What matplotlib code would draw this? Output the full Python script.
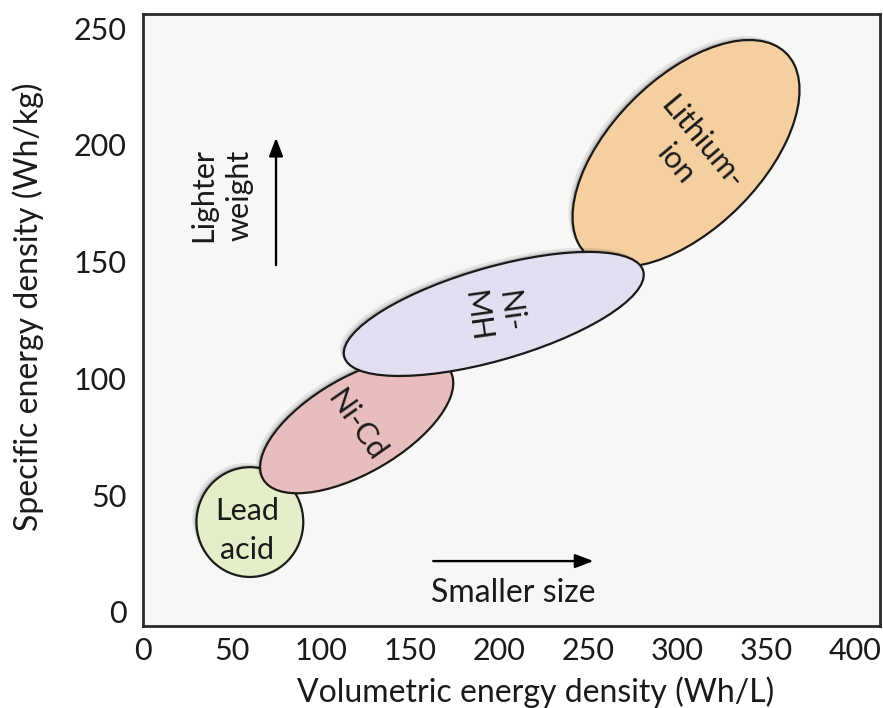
"""Battery chemistries: specific vs volumetric energy density"""
import matplotlib
matplotlib.use("Agg")
import matplotlib.pyplot as plt
from matplotlib.patches import Ellipse
import matplotlib.patheffects as pe

plt.rcParams["font.family"] = ["Lato", "DejaVu Sans"]

# region of each chemistry (centre, full extent along its own axes, tilt in data space)
batteries = ["Lead\nacid", "Ni-Cd", "Ni-\nMH", "Lithium-\nion"]
vol_center = [60, 120, 197, 305]          # Wh/L
spec_center = [38.5, 80, 127.6, 196.3]    # Wh/kg
vol_span = [60, 115.4, 172, 143.4]
spec_span = [47, 43.2, 40.4, 71.6]
tilt = [0, 21.5, 11.9, 31.9]

x_ticks = [0, 50, 100, 150, 200, 250, 300, 350, 400]
y_ticks = [0, 50, 100, 150, 200, 250]

fills = ["#e4efc9", "#e8bdbd", "#e3dff0", "#f5cf9f"]
label_rot = [0, -55, -82, -50]
label_gap = [1.45, 1.0, 1.25, 1.25]
label_shift = [(-2, -6), (0, 0), (0, 0), (2, 0)]   # points
shadow = [pe.SimplePatchShadow(offset=(-3, 3), shadow_rgbFace="k", alpha=0.08),
          pe.SimplePatchShadow(offset=(-1.5, 1.5), shadow_rgbFace="k", alpha=0.15),
          pe.Normal()]
ink = "#1a1a1a"

fig = plt.figure(figsize=(8.83, 7.08), dpi=100)
ax = fig.add_axes([0.162, 0.1158, 0.8347, 0.8644])
ax.set_facecolor("#f7f7f5")
ax.set_xlim(0, 414)
ax.set_ylim(-6, 256)

# draw order: lead, Li-ion, Ni-Cd, Ni-MH on top
order = [0, 3, 1, 2]
for z, i in enumerate(order):
    e = Ellipse((vol_center[i], spec_center[i]), vol_span[i], spec_span[i],
                angle=tilt[i], facecolor=fills[i], edgecolor=ink,
                linewidth=1.6, zorder=2 + z)
    e.set_path_effects(shadow)
    ax.add_patch(e)
    ax.annotate(batteries[i], (vol_center[i], spec_center[i]),
                xytext=label_shift[i], textcoords="offset points",
                rotation=label_rot[i], ha="center", va="center", fontsize=22,
                color=ink, linespacing=label_gap[i], rotation_mode="anchor",
                zorder=10)

# direction hints
head = "-|>,head_length=1.1,head_width=0.42"
ax.annotate("", xy=(74.7, 203), xytext=(74.7, 148.5),
            arrowprops=dict(arrowstyle=head, color="black", lw=1.7,
                            shrinkA=0, shrinkB=0))
ax.text(44, 178.5, "Lighter\nweight", rotation=90, ha="center", va="center",
        fontsize=22, color=ink, linespacing=1.4)
ax.annotate("", xy=(253, 21.8), xytext=(163, 21.8),
            arrowprops=dict(arrowstyle=head, color="black", lw=1.7,
                            shrinkA=0, shrinkB=0))
ax.text(208, 8, "Smaller size", ha="center", va="center", fontsize=23,
        color=ink)

ax.set_xticks(x_ticks)
ax.set_yticks(y_ticks)
ax.tick_params(length=0, labelsize=22, labelcolor=ink, pad=8)
ax.tick_params(axis="y", pad=12)
ax.set_xlabel("Volumetric energy density (Wh/L)", fontsize=23, color=ink)
ax.set_ylabel("Specific energy density (Wh/kg)", fontsize=23, color=ink)
ax.xaxis.set_label_coords(0.533, -0.083)
ax.yaxis.set_label_coords(-0.135, 0.521)
for sp in ax.spines.values():
    sp.set_linewidth(2)
    sp.set_color("#2a2a2a")

fig.savefig("out.png", dpi=100)
plt.close(fig)
